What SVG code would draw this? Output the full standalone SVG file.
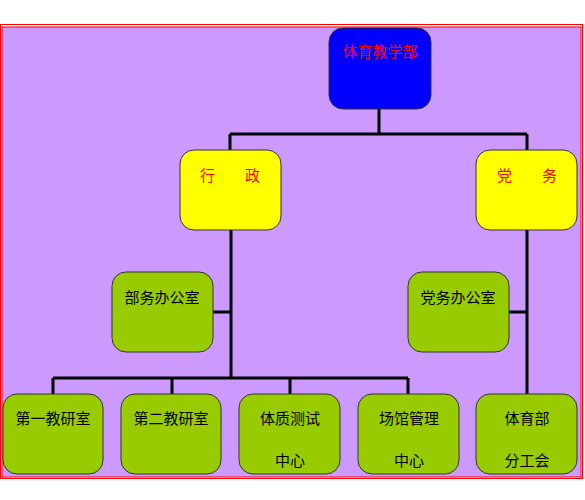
<svg xmlns="http://www.w3.org/2000/svg" width="585" height="500" viewBox="0 0 585 500">
<style>
.n{stroke:#333;stroke-width:1}
.t{font-family:"Liberation Sans","Noto Sans CJK SC",sans-serif;font-size:15px;text-anchor:middle;fill:#000}
.r{fill:#f00}
.c{stroke:#000;stroke-width:3;fill:none}
</style>
<rect x="0" y="0" width="585" height="500" fill="#fff"/>
<rect x="0.5" y="24.5" width="582" height="454" fill="none" stroke="#f00"/>
<rect x="2" y="27" width="579" height="450" fill="#cc99ff" stroke="#f00" stroke-width="1"/>
<g id="connectors" class="c">
<path d="M379 109V134M230 134H527M230 134V150M527 134V150M231 230V378M213 312H231M527 230V394M509 312H527M53 378H408M53 378V394M172 378V394M290 378V394M408 378V394"/>
</g>
<g id="n0"><rect class="n" x="329" y="28" width="102" height="81" rx="14" fill="#0000ff"/><text class="t r" x="380" y="57">体育教学部</text></g>
<g id="n1"><rect class="n" x="180" y="150" width="101" height="80" rx="14" fill="#ffff00"/><text class="t r" x="230" y="181" font-size="17">行　　政</text></g>
<g id="n2"><rect class="n" x="476" y="150" width="101" height="80" rx="14" fill="#ffff00"/><text class="t r" x="527" y="181" font-size="17">党　　务</text></g>
<g id="n3"><rect class="n" x="112" y="272" width="101" height="80" rx="14" fill="#99cc00"/><text class="t" x="162" y="303">部务办公室</text></g>
<g id="n4"><rect class="n" x="408" y="272" width="101" height="80" rx="14" fill="#99cc00"/><text class="t" x="458" y="303">党务办公室</text></g>
<g id="n5"><rect class="n" x="3" y="394" width="100" height="80" rx="14" fill="#99cc00"/><text class="t" x="53" y="424">第一教研室</text></g>
<g id="n6"><rect class="n" x="121" y="394" width="100" height="80" rx="14" fill="#99cc00"/><text class="t" x="171" y="424">第二教研室</text></g>
<g id="n7"><rect class="n" x="239" y="394" width="101" height="80" rx="14" fill="#99cc00"/><text class="t" x="290" y="424">体质测试</text><text class="t" x="290" y="466">中心</text></g>
<g id="n8"><rect class="n" x="358" y="394" width="101" height="80" rx="14" fill="#99cc00"/><text class="t" x="409" y="424">场馆管理</text><text class="t" x="409" y="466">中心</text></g>
<g id="n9"><rect class="n" x="476" y="394" width="101" height="80" rx="14" fill="#99cc00"/><text class="t" x="527" y="424">体育部</text><text class="t" x="527" y="466">分工会</text></g>
</svg>
